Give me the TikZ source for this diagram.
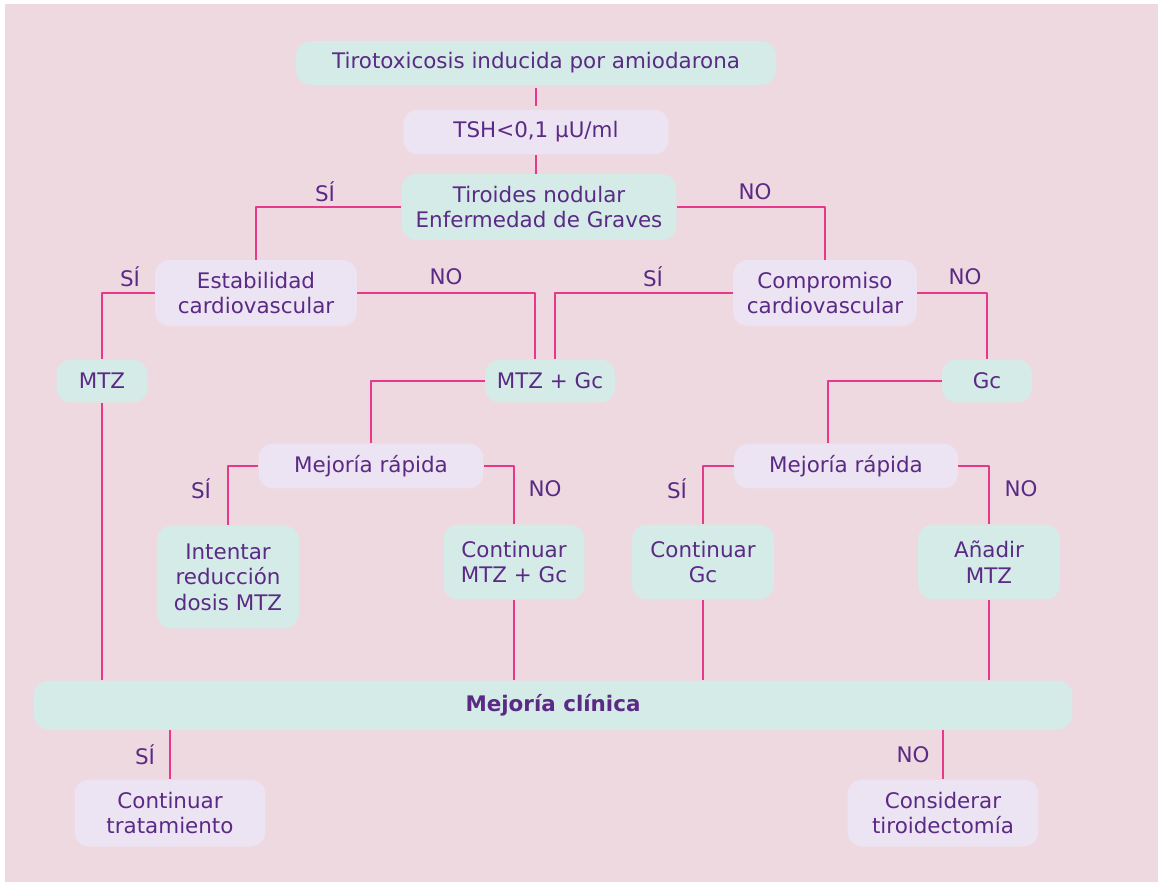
\documentclass[tikz,border=0pt]{standalone}
\usepackage{fontspec}
\setmainfont{DejaVu Sans}
\definecolor{bgpink}{HTML}{EFD9E0}
\definecolor{boxgreen}{HTML}{D5EBE8}
\definecolor{boxlav}{HTML}{ECE4F2}
\definecolor{txtpurple}{HTML}{5A2A85}
\definecolor{linkpink}{HTML}{E8388A}
\tikzset{
  box/.style={rounded corners=0.3cm,text=txtpurple,align=center,inner sep=0pt,
    font=\fontsize{12.2}{14.6}\selectfont},
  gbox/.style={box,fill=boxgreen},
  lbox/.style={box,fill=boxlav},
  link/.style={draw=linkpink,line width=0.8pt},
  lbl/.style={text=txtpurple,font=\fontsize{12.2}{14}\selectfont}
}
\begin{document}
\begin{tikzpicture}[x=0.02cm,y=-0.02cm,line join=round]
  \useasboundingbox (0,0) rectangle (1160,882);
  \fill[bgpink] (5,4) rectangle (1158,882);
  % cajas
  \node[gbox,minimum width=9.6cm,minimum height=0.88cm] (tirotox) at (536,63) {Tirotoxicosis inducida por amiodarona};
  \node[lbox,minimum width=5.3cm,minimum height=0.9cm] (tsh) at (536,132) {TSH<0,1 µU/ml};
  \node[gbox,minimum width=5.5cm,minimum height=1.32cm] (tiro) at (539,207) {Tiroides nodular\\Enfermedad de Graves};
  \node[lbox,minimum width=4.04cm,minimum height=1.32cm] (estab) at (256,293) {Estabilidad\\cardiovascular};
  \node[lbox,minimum width=3.68cm,minimum height=1.32cm] (compr) at (825,293) {Compromiso\\cardiovascular};
  \node[gbox,minimum width=1.82cm,minimum height=0.86cm] (mtz) at (102,381) {MTZ};
  \node[gbox,minimum width=2.6cm,minimum height=0.86cm] (mtzgc) at (550,381) {MTZ + Gc};
  \node[gbox,minimum width=1.8cm,minimum height=0.86cm] (gc) at (987,381) {Gc};
  \node[lbox,minimum width=4.5cm,minimum height=0.9cm] (mejA) at (371,466) {Mejoría rápida};
  \node[lbox,minimum width=4.48cm,minimum height=0.9cm] (mejB) at (846,466) {Mejoría rápida};
  \node[gbox,minimum width=2.84cm,minimum height=2.06cm] (intent) at (228,577) {Intentar\\reducción\\dosis MTZ};
  \node[gbox,minimum width=2.82cm,minimum height=1.5cm] (contA) at (514,562) {Continuar\\MTZ + Gc};
  \node[gbox,minimum width=2.84cm,minimum height=1.5cm] (contB) at (703,562) {Continuar\\Gc};
  \node[gbox,minimum width=2.84cm,minimum height=1.5cm] (anadir) at (989,562) {Añadir\\MTZ};
  \node[gbox,minimum width=20.78cm,minimum height=0.98cm,font=\fontsize{12.2}{14}\bfseries] (clin) at (553,705) {Mejoría clínica};
  \node[lbox,minimum width=3.82cm,minimum height=1.34cm] (tto) at (170,813) {Continuar\\tratamiento};
  \node[lbox,minimum width=3.82cm,minimum height=1.34cm] (cirug) at (943,813) {Considerar\\tiroidectomía};
  % conectores
  \draw[link] ([yshift=-0.06cm]tirotox.south) -- ([yshift=0.06cm]tsh.north);
  \draw[link] (tsh.south) -- (tsh.south |- tiro.north);
  \draw[link] (tiro.west) -| (estab.north);
  \draw[link] (tiro.east) -| (compr.north);
  \draw[link] (estab.west) -| (mtz.north);
  \draw[link] (estab.east) -| ([xshift=-0.3cm]mtzgc.north);
  \draw[link] (compr.west) -| ([xshift=0.1cm]mtzgc.north);
  \draw[link] (compr.east) -| (gc.north);
  \draw[link] (mtzgc.west) -| (mejA.north);
  \draw[link] (gc.west) -| ([xshift=-0.36cm]mejB.north);
  \draw[link] (mejA.west) -| (intent.north);
  \draw[link] (mejA.east) -| (contA.north);
  \draw[link] (mejB.west) -| (contB.north);
  \draw[link] (mejB.east) -| (anadir.north);
  \foreach \n in {mtz,contA,contB,anadir}
    \draw[link] (\n.south) -- (\n.south |- clin.north);
  \draw[link] (tto.north |- clin.south) -- (tto.north);
  \draw[link] (cirug.north |- clin.south) -- (cirug.north);
  % etiquetas
  \foreach \x/\y/\t/\nm in {325/192/SÍ/sA,755/192/NO/nA,130/277/SÍ/sB,446/277/NO/nB,
      653/277/SÍ/sC,965/277/NO/nC,201/489/SÍ/sD,545/489/NO/nD,677/489/SÍ/sE,
      1021/489/NO/nE,145/755/SÍ/sF,913/755/NO/nF}
    \node[lbl] (\nm) at (\x,\y) {\t};
\end{tikzpicture}
\end{document}
